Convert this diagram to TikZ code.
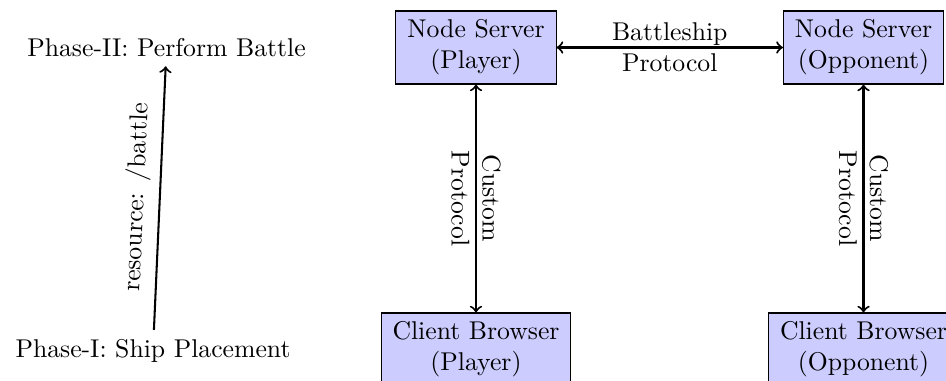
\documentclass[tikz,border=0pt]{standalone}
\begin{document}
\begin{tikzpicture}[x=0.3891pt,y=-0.3891pt,
  srvbox/.style={draw, fill=blue!20, align=center, minimum width=62.3pt, minimum height=28.4pt},
  clibox/.style={draw, fill=blue!20, align=center, minimum width=73.9pt, minimum height=28.4pt},
  conn/.style={thick}]
\path[use as bounding box, clip] (0,0) rectangle (946,381);
\node[srvbox] (ps) at (476,47.5) {Node Server\\(Player)};
\node[srvbox] (os) at (863.5,47.5) {Node Server\\(Opponent)};
\node[clibox] (pc) at (476,349.5) {Client Browser\\(Player)};
\node[clibox] (oc) at (863.5,349.5) {Client Browser\\(Opponent)};
\node (p2) at (166.5,48) {Phase-II: Perform Battle};
\node (p1) at (153,350.5) {Phase-I: Ship Placement};
\draw[conn,<->] (ps) -- node[midway, align=center] {Battleship\\Protocol} (os);
\draw[conn,<->] (ps) -- node[midway, rotate=-90, align=center] {Custom\\Protocol} (pc);
\draw[conn,<->] (os) -- node[midway, rotate=-90, align=center] {Custom\\Protocol} (oc);
\draw[conn,->] (p1) -- node[midway, above, sloped] {resource: /battle} (p2);
\end{tikzpicture}
\end{document}
